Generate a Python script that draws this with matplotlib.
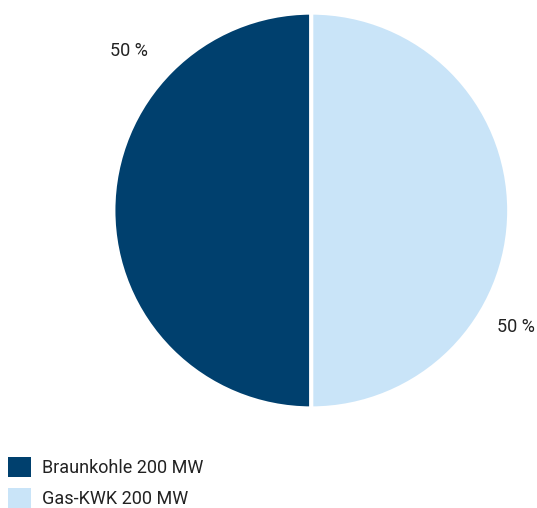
import matplotlib.pyplot as plt
from matplotlib.patches import Patch

plt.rcParams['font.family'] = ['Roboto', 'DejaVu Sans']

labels = ['Braunkohle 200 MW', 'Gas-KWK 200 MW']
values = [200, 200]
pct_labels = ['50 %', '50 %']
colors = ['#00406e', '#c9e4f8']

fig = plt.figure(figsize=(5.37, 5.08), dpi=100)
ax = fig.add_axes([0.2138, 0.1988, 0.7318, 0.7736])

ax.pie(values, colors=colors, startangle=90, counterclock=True,
       wedgeprops=dict(edgecolor='white', linewidth=2.9))
ax.set_xlim(-0.993, 0.993)
ax.set_ylim(-0.993, 0.993)
ax.set_aspect('auto')

# Prozentangaben
ax.text(-0.92, 0.807, pct_labels[0], ha='center', va='center', fontsize=13, color='#222222')
ax.text(1.036, -0.588, pct_labels[1], ha='center', va='center', fontsize=13, color='#222222')

handles = [Patch(facecolor=c, edgecolor='none') for c in colors]
fig.legend(handles, labels, loc='lower left', bbox_to_anchor=(0.015, 0.0),
           frameon=False, fontsize=13, handlelength=1.28, handleheight=1.28,
           handletextpad=0.6, labelspacing=0.62, borderpad=0, borderaxespad=0,
           labelcolor='#222222')

fig.savefig('out.png', dpi=100)
